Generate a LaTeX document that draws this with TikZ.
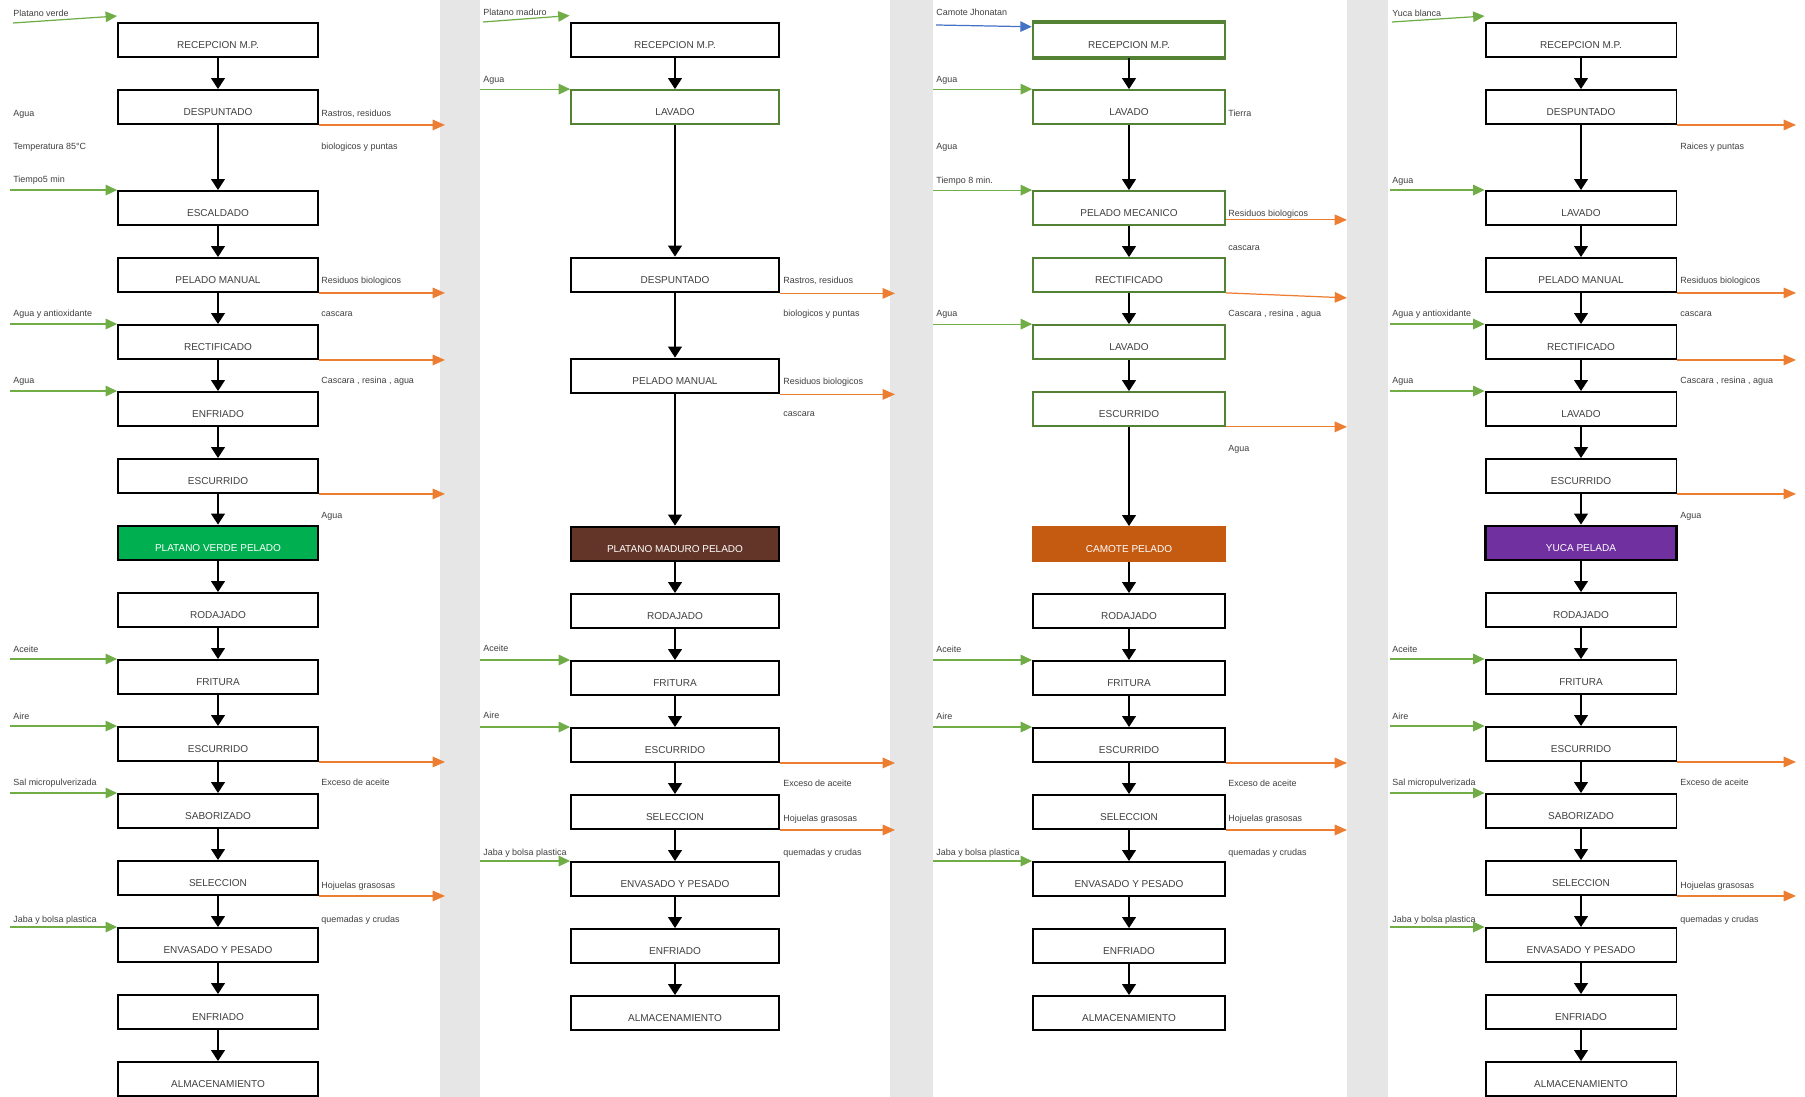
\documentclass[tikz,border=0pt]{standalone}
\usepackage{fontspec}
\setmainfont{Liberation Sans}
\usetikzlibrary{arrows.meta}
\definecolor{verdeflecha}{HTML}{70AD47}
\definecolor{naranja}{HTML}{ED7D31}
\definecolor{azul}{HTML}{4472C4}
\definecolor{verdeborde}{HTML}{548235}
\definecolor{verdelleno}{HTML}{00B050}
\definecolor{cafe}{HTML}{633528}
\definecolor{camote}{HTML}{C55A11}
\definecolor{morado}{HTML}{7030A0}
\definecolor{franja}{HTML}{E6E6E6}
\definecolor{texto}{HTML}{404040}
\begin{document}
\begin{tikzpicture}[x=0.02cm,y=-0.02cm,
    etapa/.style={draw,line width=1.1pt,fill=white,minimum height=0.68cm,inner sep=0pt,
        text height=9.8pt,text depth=0pt,font=\fontsize{5.7}{6.5}\selectfont,text=texto},
    ancho1/.style={minimum width=4cm},
    ancho2/.style={minimum width=4.16cm},
    ancho3/.style={minimum width=3.84cm},
    ancho4/.style={minimum width=3.82cm},
    gruesa/.style={line width=1.6pt},
    verde/.style={draw=verdeborde,line width=1pt},
    nota/.style={anchor=west,inner sep=0pt,text height=3.6pt,text depth=0pt,
        font=\fontsize{5.1}{6}\selectfont,text=texto},
    flujo/.style={line width=0.9pt,-{Triangle[width=7.8pt,length=6.2pt]}},
    entra/.style={verdeflecha,line width=0.7pt,-{Triangle[width=6pt,length=6.5pt]}},
    sale/.style={naranja,line width=0.7pt,-{Triangle[width=6pt,length=7pt]}}]
    \useasboundingbox (0,0) rectangle (1805,1097);
    \fill[white] (0,0) rectangle (1805,1097);
    \fill[franja] (440,0) rectangle (480,1097);
    \fill[franja] (890,0) rectangle (933,1097);
    \fill[franja] (1347,0) rectangle (1388,1097);
    \coordinate (ini1) at (10,0);   \coordinate (fin1) at (445,0);
    \coordinate (ini2) at (480,0);  \coordinate (fin2) at (895,0);
    \coordinate (ini3) at (933,0);  \coordinate (fin3) at (1347,0);
    \coordinate (ini4) at (1390,0); \coordinate (fin4) at (1796,0);

    \node[etapa,ancho1] (v1) at (218,40) {RECEPCION M.P.};
    \node[etapa,ancho1] (v2) at (218,107) {DESPUNTADO};
    \node[etapa,ancho1] (v3) at (218,208) {ESCALDADO};
    \node[etapa,ancho1] (v4) at (218,275) {PELADO MANUAL};
    \node[etapa,ancho1] (v5) at (218,342) {RECTIFICADO};
    \node[etapa,ancho1] (v6) at (218,409) {ENFRIADO};
    \node[etapa,ancho1] (v7) at (218,476) {ESCURRIDO};
    \node[etapa,ancho1,gruesa,fill=verdelleno,text=white] (v8) at (218,543) {PLATANO VERDE PELADO};
    \node[etapa,ancho1] (v9) at (218,610) {RODAJADO};
    \node[etapa,ancho1] (v10) at (218,677) {FRITURA};
    \node[etapa,ancho1] (v11) at (218,744) {ESCURRIDO};
    \node[etapa,ancho1] (v12) at (218,811) {SABORIZADO};
    \node[etapa,ancho1] (v13) at (218,878) {SELECCION};
    \node[etapa,ancho1] (v14) at (218,945) {ENVASADO Y PESADO};
    \node[etapa,ancho1] (v15) at (218,1012) {ENFRIADO};
    \node[etapa,ancho1] (v16) at (218,1079) {ALMACENAMIENTO};
    \draw[flujo] (v1) -- (v2); \draw[flujo] (v2) -- (v3); \draw[flujo] (v3) -- (v4);
    \draw[flujo] (v4) -- (v5); \draw[flujo] (v5) -- (v6); \draw[flujo] (v6) -- (v7);
    \draw[flujo] (v7) -- (v8); \draw[flujo] (v8) -- (v9); \draw[flujo] (v9) -- (v10);
    \draw[flujo] (v10) -- (v11); \draw[flujo] (v11) -- (v12); \draw[flujo] (v12) -- (v13);
    \draw[flujo] (v13) -- (v14); \draw[flujo] (v14) -- (v15); \draw[flujo] (v15) -- (v16);
    \node[nota] (iv1) at (13,13) {Platano verde};
    \node[nota] (iv2) at (13,113) {Agua};
    \node[nota] (iv3) at (13,146) {Temperatura 85°C};
    \node[nota] (iv4) at (13,179) {Tiempo5 min};
    \node[nota] (iv5) at (13,313) {Agua y antioxidante};
    \node[nota] (iv6) at (13,380) {Agua};
    \node[nota] (iv7) at (13,649) {Aceite};
    \node[nota] (iv8) at (13,716) {Aire};
    \node[nota] (iv9) at (13,782) {Sal micropulverizada};
    \node[nota] (iv10) at (13,919) {Jaba y bolsa plastica};
    \node[nota] (ov1) at (321,113) {Rastros, residuos};
    \node[nota] (ov2) at (321,146) {biologicos y puntas};
    \node[nota] (ov3) at (321,280) {Residuos biologicos};
    \node[nota] (ov4) at (321,313) {cascara};
    \node[nota] (ov5) at (321,380) {Cascara , resina , agua};
    \node[nota] (ov6) at (321,515) {Agua};
    \node[nota] (ov7) at (321,782) {Exceso de aceite};
    \node[nota] (ov8) at (321,885) {Hojuelas grasosas};
    \node[nota] (ov9) at (321,919) {quemadas y crudas};
    \coordinate (pv) at (13,23);
    \draw[entra] (pv) -- ([yshift=0.12cm]v1.north west);
    \draw[entra] (ini1 |- v3.north west) -- (v3.north west);
    \draw[entra] (ini1 |- v5.north west) -- (v5.north west);
    \draw[entra] (ini1 |- v6.north west) -- (v6.north west);
    \draw[entra] (ini1 |- v10.north west) -- (v10.north west);
    \draw[entra] (ini1 |- v11.north west) -- (v11.north west);
    \draw[entra] (ini1 |- v12.north west) -- (v12.north west);
    \draw[entra] (ini1 |- v14.north west) -- (v14.north west);
    \draw[sale] (v2.south east) -- (v2.south east -| fin1);
    \draw[sale] (v4.south east) -- (v4.south east -| fin1);
    \draw[sale] (v5.south east) -- (v5.south east -| fin1);
    \draw[sale] (v7.south east) -- (v7.south east -| fin1);
    \draw[sale] (v11.south east) -- (v11.south east -| fin1);
    \draw[sale] (v13.south east) -- (v13.south east -| fin1);

    \node[etapa,ancho2,gruesa] (m1) at (675,40) {RECEPCION M.P.};
    \node[etapa,ancho2,verde] (m2) at (675,107) {LAVADO};
    \node[etapa,ancho2,gruesa] (m3) at (675,275) {DESPUNTADO};
    \node[etapa,ancho2,gruesa] (m4) at (675,376) {PELADO MANUAL};
    \node[etapa,ancho2,gruesa,fill=cafe,text=white] (m5) at (675,544) {PLATANO MADURO PELADO};
    \node[etapa,ancho2] (m6) at (675,611) {RODAJADO};
    \node[etapa,ancho2] (m7) at (675,678) {FRITURA};
    \node[etapa,ancho2] (m8) at (675,745) {ESCURRIDO};
    \node[etapa,ancho2] (m9) at (675,812) {SELECCION};
    \node[etapa,ancho2] (m10) at (675,879) {ENVASADO Y PESADO};
    \node[etapa,ancho2] (m11) at (675,946) {ENFRIADO};
    \node[etapa,ancho2] (m12) at (675,1013) {ALMACENAMIENTO};
    \draw[flujo] (m1) -- (m2); \draw[flujo] (m2) -- (m3); \draw[flujo] (m3) -- (m4);
    \draw[flujo] (m4) -- (m5); \draw[flujo] (m5) -- (m6); \draw[flujo] (m6) -- (m7);
    \draw[flujo] (m7) -- (m8); \draw[flujo] (m8) -- (m9); \draw[flujo] (m9) -- (m10);
    \draw[flujo] (m10) -- (m11); \draw[flujo] (m11) -- (m12);
    \node[nota] (im1) at (483,12) {Platano maduro};
    \node[nota] (im2) at (483,79) {Agua};
    \node[nota] (im3) at (483,648) {Aceite};
    \node[nota] (im4) at (483,715) {Aire};
    \node[nota] (im5) at (483,852) {Jaba y bolsa plastica};
    \node[nota] (om1) at (783,280) {Rastros, residuos};
    \node[nota] (om2) at (783,313) {biologicos y puntas};
    \node[nota] (om3) at (783,381) {Residuos biologicos};
    \node[nota] (om4) at (783,413) {cascara};
    \node[nota] (om5) at (783,783) {Exceso de aceite};
    \node[nota] (om6) at (783,818) {Hojuelas grasosas};
    \node[nota] (om7) at (783,852) {quemadas y crudas};
    \coordinate (pm) at (483,22);
    \draw[entra] (pm) -- ([yshift=0.12cm]m1.north west);
    \draw[entra] (ini2 |- m2.north west) -- (m2.north west);
    \draw[entra] (ini2 |- m7.north west) -- (m7.north west);
    \draw[entra] (ini2 |- m8.north west) -- (m8.north west);
    \draw[entra] (ini2 |- m10.north west) -- (m10.north west);
    \draw[sale] (m3.south east) -- (m3.south east -| fin2);
    \draw[sale] (m4.south east) -- (m4.south east -| fin2);
    \draw[sale] (m8.south east) -- (m8.south east -| fin2);
    \draw[sale] (m9.south east) -- (m9.south east -| fin2);

    \node[etapa,ancho3,draw=verdeborde,line width=1.4pt] (c1) at (1129,40) {RECEPCION M.P.};
    \draw[verdeborde,line width=2.4pt] (c1.north west) -- (c1.north east);
    \draw[verdeborde,line width=2.4pt] (c1.south west) -- (c1.south east);
    \node[etapa,ancho3,verde] (c2) at (1129,107) {LAVADO};
    \node[etapa,ancho3,verde] (c3) at (1129,208) {PELADO MECANICO};
    \node[etapa,ancho3,verde] (c4) at (1129,275) {RECTIFICADO};
    \node[etapa,ancho3,verde] (c5) at (1129,342) {LAVADO};
    \node[etapa,ancho3,verde] (c6) at (1129,409) {ESCURRIDO};
    \node[etapa,ancho3,draw=camote,fill=camote,text=white] (c7) at (1129,544) {CAMOTE PELADO};
    \node[etapa,ancho3] (c8) at (1129,611) {RODAJADO};
    \node[etapa,ancho3] (c9) at (1129,678) {FRITURA};
    \node[etapa,ancho3] (c10) at (1129,745) {ESCURRIDO};
    \node[etapa,ancho3] (c11) at (1129,812) {SELECCION};
    \node[etapa,ancho3] (c12) at (1129,879) {ENVASADO Y PESADO};
    \node[etapa,ancho3] (c13) at (1129,946) {ENFRIADO};
    \node[etapa,ancho3] (c14) at (1129,1013) {ALMACENAMIENTO};
    \draw[flujo] (c1) -- (c2); \draw[flujo] (c2) -- (c3); \draw[flujo] (c3) -- (c4);
    \draw[flujo] (c4) -- (c5); \draw[flujo] (c5) -- (c6); \draw[flujo] (c6) -- (c7);
    \draw[flujo] (c7) -- (c8); \draw[flujo] (c8) -- (c9); \draw[flujo] (c9) -- (c10);
    \draw[flujo] (c10) -- (c11); \draw[flujo] (c11) -- (c12); \draw[flujo] (c12) -- (c13);
    \draw[flujo] (c13) -- (c14);
    \node[nota] (ic1) at (936,12) {Camote Jhonatan};
    \node[nota] (ic2) at (936,79) {Agua};
    \node[nota] (ic3) at (936,146) {Agua};
    \node[nota] (ic4) at (936,180) {Tiempo 8 min.};
    \node[nota] (ic5) at (936,313) {Agua};
    \node[nota] (ic6) at (936,649) {Aceite};
    \node[nota] (ic7) at (936,716) {Aire};
    \node[nota] (ic8) at (936,852) {Jaba y bolsa plastica};
    \node[nota] (oc1) at (1228,113) {Tierra};
    \node[nota] (oc2) at (1228,213) {Residuos biologicos};
    \node[nota] (oc3) at (1228,247) {cascara};
    \node[nota] (oc4) at (1228,313) {Cascara , resina , agua};
    \node[nota] (oc5) at (1228,448) {Agua};
    \node[nota] (oc6) at (1228,783) {Exceso de aceite};
    \node[nota] (oc7) at (1228,818) {Hojuelas grasosas};
    \node[nota] (oc8) at (1228,852) {quemadas y crudas};
    \coordinate (pc) at (936,25);
    \draw[azul,line width=0.7pt,-{Triangle[width=6pt,length=6.5pt]}] (pc) -- ([yshift=-0.1cm]c1.north west);
    \draw[entra] (ini3 |- c2.north west) -- (c2.north west);
    \draw[entra] (ini3 |- c3.north west) -- (c3.north west);
    \draw[entra] (ini3 |- c5.north west) -- (c5.north west);
    \draw[entra] (ini3 |- c9.north west) -- (c9.north west);
    \draw[entra] (ini3 |- c10.north west) -- (c10.north west);
    \draw[entra] (ini3 |- c12.north west) -- (c12.north west);
    \draw[sale] ([yshift=0.12cm]c3.south east) -- ([yshift=0.12cm]c3.south east -| fin3);
    \draw[sale] (c4.south east) -- ([yshift=-0.1cm]c4.south east -| fin3);
    \draw[sale] (c6.south east) -- (c6.south east -| fin3);
    \draw[sale] (c10.south east) -- (c10.south east -| fin3);
    \draw[sale] (c11.south east) -- (c11.south east -| fin3);

    \node[etapa,ancho4] (y1) at (1581,40) {RECEPCION M.P.};
    \node[etapa,ancho4] (y2) at (1581,107) {DESPUNTADO};
    \node[etapa,ancho4] (y3) at (1581,208) {LAVADO};
    \node[etapa,ancho4] (y4) at (1581,275) {PELADO MANUAL};
    \node[etapa,ancho4] (y5) at (1581,342) {RECTIFICADO};
    \node[etapa,ancho4] (y6) at (1581,409) {LAVADO};
    \node[etapa,ancho4] (y7) at (1581,476) {ESCURRIDO};
    \node[etapa,ancho4,gruesa,fill=morado,text=white] (y8) at (1581,543) {YUCA PELADA};
    \node[etapa,ancho4] (y9) at (1581,610) {RODAJADO};
    \node[etapa,ancho4] (y10) at (1581,677) {FRITURA};
    \node[etapa,ancho4] (y11) at (1581,744) {ESCURRIDO};
    \node[etapa,ancho4] (y12) at (1581,811) {SABORIZADO};
    \node[etapa,ancho4] (y13) at (1581,878) {SELECCION};
    \node[etapa,ancho4] (y14) at (1581,945) {ENVASADO Y PESADO};
    \node[etapa,ancho4] (y15) at (1581,1012) {ENFRIADO};
    \node[etapa,ancho4] (y16) at (1581,1079) {ALMACENAMIENTO};
    \draw[flujo] (y1) -- (y2); \draw[flujo] (y2) -- (y3); \draw[flujo] (y3) -- (y4);
    \draw[flujo] (y4) -- (y5); \draw[flujo] (y5) -- (y6); \draw[flujo] (y6) -- (y7);
    \draw[flujo] (y7) -- (y8); \draw[flujo] (y8) -- (y9); \draw[flujo] (y9) -- (y10);
    \draw[flujo] (y10) -- (y11); \draw[flujo] (y11) -- (y12); \draw[flujo] (y12) -- (y13);
    \draw[flujo] (y13) -- (y14); \draw[flujo] (y14) -- (y15); \draw[flujo] (y15) -- (y16);
    \node[nota] (iy1) at (1392,13) {Yuca blanca};
    \node[nota] (iy2) at (1392,180) {Agua};
    \node[nota] (iy3) at (1392,313) {Agua y antioxidante};
    \node[nota] (iy4) at (1392,380) {Agua};
    \node[nota] (iy5) at (1392,649) {Aceite};
    \node[nota] (iy6) at (1392,716) {Aire};
    \node[nota] (iy7) at (1392,782) {Sal micropulverizada};
    \node[nota] (iy8) at (1392,919) {Jaba y bolsa plastica};
    \node[nota] (oy1) at (1680,146) {Raices y puntas};
    \node[nota] (oy2) at (1680,280) {Residuos biologicos};
    \node[nota] (oy3) at (1680,313) {cascara};
    \node[nota] (oy4) at (1680,380) {Cascara , resina , agua};
    \node[nota] (oy5) at (1680,515) {Agua};
    \node[nota] (oy6) at (1680,782) {Exceso de aceite};
    \node[nota] (oy7) at (1680,885) {Hojuelas grasosas};
    \node[nota] (oy8) at (1680,919) {quemadas y crudas};
    \coordinate (py) at (1392,22);
    \draw[entra] (py) -- ([yshift=0.12cm]y1.north west);
    \draw[entra] (ini4 |- y3.north west) -- (y3.north west);
    \draw[entra] (ini4 |- y5.north west) -- (y5.north west);
    \draw[entra] (ini4 |- y6.north west) -- (y6.north west);
    \draw[entra] (ini4 |- y10.north west) -- (y10.north west);
    \draw[entra] (ini4 |- y11.north west) -- (y11.north west);
    \draw[entra] (ini4 |- y12.north west) -- (y12.north west);
    \draw[entra] (ini4 |- y14.north west) -- (y14.north west);
    \draw[sale] (y2.south east) -- (y2.south east -| fin4);
    \draw[sale] (y4.south east) -- (y4.south east -| fin4);
    \draw[sale] (y5.south east) -- (y5.south east -| fin4);
    \draw[sale] (y7.south east) -- (y7.south east -| fin4);
    \draw[sale] (y11.south east) -- (y11.south east -| fin4);
    \draw[sale] (y13.south east) -- (y13.south east -| fin4);
\end{tikzpicture}
\end{document}
